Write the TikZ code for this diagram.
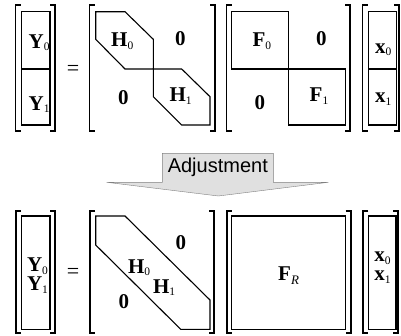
\documentclass[tikz,border=0pt]{standalone}
\usepackage{fontspec}
\setmainfont{Liberation Serif}
\newfontfamily\adjfont{Liberation Sans}
\usetikzlibrary{calc}
\newcommand{\mbrackets}[5]{
	\draw[#5] ($(#1,#3)+(5,0)$) -- (#1,#3) -- (#1,#4) -- ($(#1,#4)+(5,0)$);
	\draw[#5] ($(#2,#3)+(-5,0)$) -- (#2,#3) -- (#2,#4) -- ($(#2,#4)+(-5,0)$);
}
\newcommand{\blk}[2]{\textbf{#1}\raisebox{-2.5pt}{\fontsize{11.5}{11.5}\selectfont\mdseries #2}}
\begin{document}
\begin{tikzpicture}[x=1pt,y=-1pt]
		\tikzstyle{brack_top}=[line width=1.3pt];
		\tikzstyle{brack_bot}=[line width=1.7pt];
		\tikzstyle{box_top}=[line width=1.1pt];
		\tikzstyle{box_bot}=[line width=1.5pt];
		\tikzstyle{lbl}=[anchor=base west,inner sep=0,font=\fontsize{21}{21}\selectfont];
		\tikzstyle{lbl2}=[anchor=north,inner sep=0,align=center,font=\fontsize{21}{19}\selectfont];
		\tikzstyle{eqs}=[inner sep=0,font=\fontsize{22}{22}\selectfont];
		\useasboundingbox (0,0) rectangle (401,335);

		% before adjustment
		\mbrackets{15.7}{55}{5}{131}{brack_top}
		\draw[box_top] (21.7,11.7) rectangle (50,125);
		\draw[box_top] (21.7,69) -- (50,69);
		\node[lbl] (y0_t) at (28.5,48) {\blk{Y}{0}};
		\node[lbl] (y1_t) at (28.5,110) {\blk{Y}{1}};
		\node[eqs] (eq_t) at (73,70.5) {=};

		\mbrackets{89.5}{215}{5}{131}{brack_top}
		\draw[box_top] (95.7,11.7) -- (125,11.7) -- (153.3,39.3) -- (153.3,69) -- (125,69) -- (95.7,39.3) -- cycle;
		\draw[box_top] (153.3,69) -- (181.7,69) -- (210,96.7) -- (210,125) -- (181.7,125) -- (153.3,96.7) -- cycle;
		\node[lbl] (h0_t) at (111,46.7) {\blk{H}{0}};
		\node[lbl] (z1_t) at (175,45) {\textbf{0}};
		\node[lbl] (z2_t) at (117.8,104) {\textbf{0}};
		\node[lbl] (h1_t) at (169.3,101.7) {\blk{H}{1}};

		\mbrackets{226.5}{350}{5}{131}{brack_top}
		\draw[box_top] (231.7,11.7) rectangle (288.3,69);
		\draw[box_top] (288.3,69) rectangle (345.7,125);
		\node[lbl] (f0_t) at (252.3,46.7) {\blk{F}{0}};
		\node[lbl] (z3_t) at (316,45) {\textbf{0}};
		\node[lbl] (z4_t) at (254.5,109.3) {\textbf{0}};
		\node[lbl] (f1_t) at (309.5,101.7) {\blk{F}{1}};

		\mbrackets{362.7}{399}{5}{131}{brack_top}
		\draw[box_top] (368.3,11.7) rectangle (396.7,125);
		\draw[box_top] (368.3,69) -- (396.7,69);
		\node[lbl] (x0_t) at (375,53) {\blk{x}{0}};
		\node[lbl] (x1_t) at (375,102.7) {\blk{x}{1}};

		% adjustment arrow
		\filldraw[draw=black!50,fill=black!12] (106.7,182.3) -- (162.3,182.3) -- (162.3,153.3) -- (273.3,153.3) -- (273.3,182.3) -- (328.3,182.3) -- (218.3,196) -- cycle;
		\node[inner sep=0,font=\adjfont\fontsize{20}{20}\selectfont] (adj) at (217.8,167.5) {Adjustment};

		% after adjustment
		\mbrackets{15.7}{55}{210.7}{333.3}{brack_bot}
		\draw[box_bot] (21.7,216) rectangle (50,329.3);
		\node[lbl2] (y_b) at (37.5,258) {\blk{Y}{0}\\\blk{Y}{1}};
		\node[eqs] (eq_b) at (73,273) {=};

		\mbrackets{90}{214}{210.7}{333.3}{brack_bot}
		\draw[box_top] (95.7,216) -- (125,216) -- (210,300) -- (210,329.3) -- (180.7,329.3) -- (95.7,245) -- cycle;
		\node[lbl] (h0_b) at (127.8,273.3) {\blk{H}{0}};
		\node[lbl] (h1_b) at (152.8,293.3) {\blk{H}{1}};
		\node[lbl] (z1_b) at (175.5,249.3) {\textbf{0}};
		\node[lbl] (z2_b) at (118.5,308.3) {\textbf{0}};

		\mbrackets{226.7}{350.7}{210.7}{333.3}{brack_bot}
		\draw[box_bot] (231.7,216) rectangle (345.7,329.3);
		\node[lbl] (fr_b) at (278,280) {\textbf{F}\raisebox{-4pt}{\fontsize{13}{13}\selectfont\itshape R}};

		\mbrackets{363.3}{398.3}{210.7}{333.3}{brack_bot}
		\draw[box_bot] (368.3,216) rectangle (396,329.3);
		\node[lbl2] (x_b) at (382.5,252) {\blk{x}{0}\\\blk{x}{1}};
\end{tikzpicture}
\end{document}
